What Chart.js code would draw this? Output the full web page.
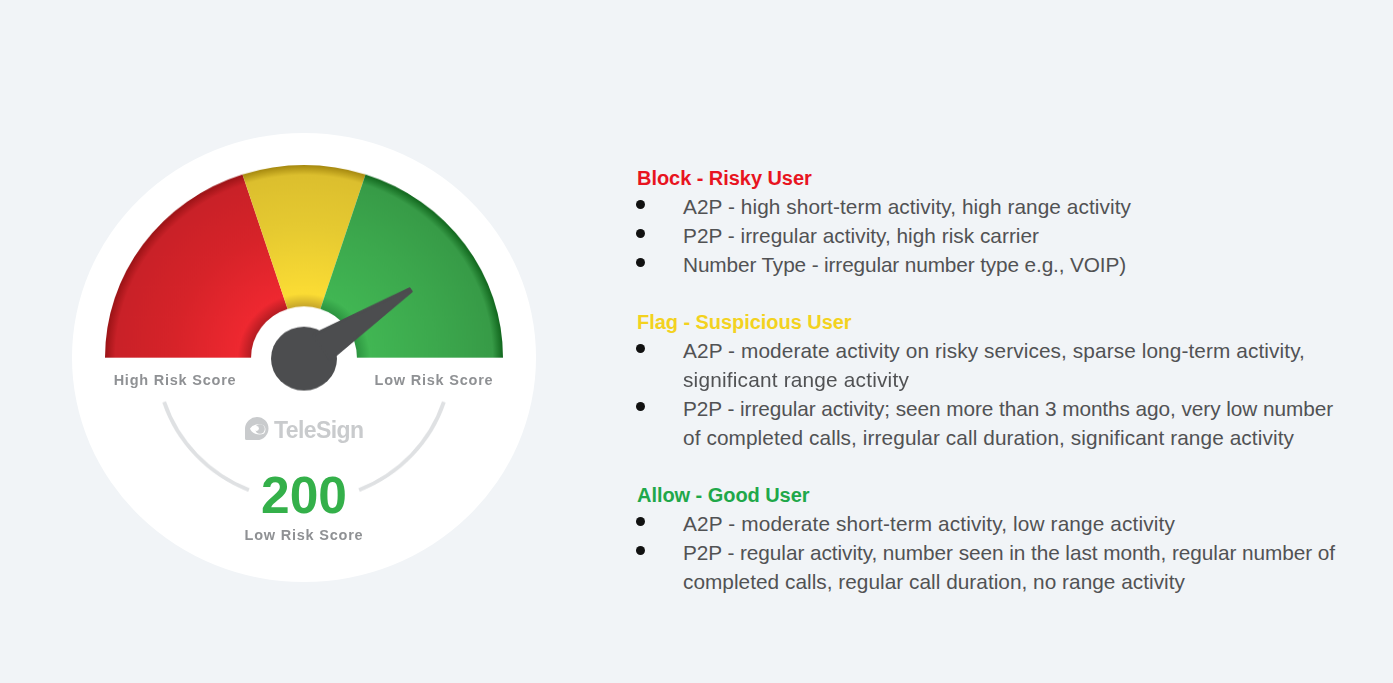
<!DOCTYPE html>
<html><head><meta charset="utf-8">
<style>
html,body{margin:0;padding:0;background:#f1f4f7;width:1393px;height:683px;overflow:hidden}
body{position:relative;font-family:"Liberation Sans",Arial,sans-serif}
#disc{position:absolute;left:72px;top:133px;width:464px;height:449px;border-radius:50%;background:#fff}
canvas{position:absolute}
#gauge{left:72px;top:165px;transform:scaleY(.968);transform-origin:0 0}
#ring{left:155px;top:209px;transform:scaleY(.968);transform-origin:50% 50%}
.t{position:absolute;white-space:nowrap;line-height:29px;height:29px;margin-top:-14.5px}
.h{font-weight:bold;font-size:20px;letter-spacing:-.05px}
.b{font-size:20.8px;color:#515254;margin-top:-15.5px}
.dot{position:absolute;width:9px;height:9px;border-radius:50%;background:#111}
.lab{position:absolute;font-weight:bold;color:#8f9194;font-size:14.5px;letter-spacing:.77px;white-space:nowrap;transform:translateX(-50%);line-height:18px}
#score{position:absolute;left:304px;top:466px;transform:translateX(-50%);font-weight:bold;font-size:51.5px;line-height:58px;color:#34b04a}
#brand{position:absolute;left:274px;top:416px;font-weight:bold;font-size:23px;line-height:28px;color:#c9cbcd;letter-spacing:-.6px}
#logo{position:absolute;left:245px;top:417px}
</style></head><body>
<div id="disc"></div>
<canvas id="ring" width="298" height="298"></canvas>
<canvas id="gauge" width="464" height="240"></canvas>
<div class="lab" style="left:175px;top:371px">High Risk Score</div>
<div class="lab" style="left:434px;top:371px">Low Risk Score</div>
<svg id="logo" width="24" height="24" viewBox="0 0 24 24"><path d="M12 0a11.500 11.500 0 1 1 0 23H1.500a1.500 1.500 0 0 1-1.500-1.500V11A12 12 0 0 1 12 0z" fill="#c9cbcd"/><path d="M5 11.500a9.500 7 0 0 1 14-3a7 7 0 0 1 0 8a9.500 7 0 0 1-14-5z" fill="#fff"/><circle cx="15" cy="12" r="4.800" fill="#c9cbcd"/><circle cx="11.500" cy="11.500" r="2.400" fill="#fff"/></svg>
<div id="brand">TeleSign</div>
<div id="score"></div>
<div class="lab" style="left:304px;top:526px" id="scoreLabel"></div>
<div id="copy"></div>
<script src="https://cdn.jsdelivr.net/npm/chart.js@4"></script>
<script>
const zoneLabels = ["High Risk Score", "Flag", "Low Risk Score"];
const zoneSpans = [40, 20, 40];
const dialMax = 1000;
const needleReading = 187;
const scoreText = "200";
const scoreLabelText = "Low Risk Score";
const ringLabels = ["left arc", "gap", "right arc", "rest"];
const ringSpans = [50, 44, 50, 216];

const blockHead = "Block - Risky User";
const blockLines = [
  ["A2P - high short-term activity, high range activity"],
  ["P2P - irregular activity, high risk carrier"],
  ["Number Type - irregular number type e.g., VOIP)"]
];
const flagHead = "Flag - Suspicious User";
const flagLines = [
  ["A2P - moderate activity on risky services, sparse long-term activity,", "significant range activity"],
  ["P2P - irregular activity; seen more than 3 months ago, very low number", "of completed calls, irregular call duration, significant range activity"]
];
const allowHead = "Allow - Good User";
const allowLines = [
  ["A2P - moderate short-term activity, low range activity"],
  ["P2P - regular activity, number seen in the last month, regular number of", "completed calls, regular call duration, no range activity"]
];
const lineWidths = [448, 356, 443, 622, 226, 650, 611, 492, 652, 502];

const sections = [
  [blockHead, "#e8141f", blockLines, 178],
  [flagHead, "#f3d21f", flagLines, 322],
  [allowHead, "#1fa84a", allowLines, 495]
];
const copy = document.getElementById("copy");
function add(cls, text, x, y, color) {
  const d = document.createElement("div");
  d.className = "t " + cls; d.textContent = text;
  d.style.left = x + "px"; d.style.top = y + "px";
  if (color) d.style.color = color;
  copy.appendChild(d);
  return d;
}
let lineNo = 0;
sections.forEach(([head, color, items, y0]) => {
  add("h", head, 637, y0, color);
  let y = y0 + 29;
  items.forEach(lines => {
    const dot = document.createElement("div");
    dot.className = "dot"; dot.style.left = "636px"; dot.style.top = (y - 7.5) + "px";
    copy.appendChild(dot);
    lines.forEach(line => {
      const d = add("b", line, 683, y);
      const w = d.getBoundingClientRect().width;
      d.style.letterSpacing = ((lineWidths[lineNo++] - w) / line.length) + "px";
      y += 29;
    });
  });
});
document.getElementById("score").textContent = scoreText;
document.getElementById("scoreLabel").textContent = scoreLabelText;

// Radial shading per zone: [inner shadow, bright, mid, rim shade, rim edge]
const shades = [
  ["#b51c22", "#ee2830", "#d62329", "#c92128", "#9a1316"],
  ["#c7a62a", "#fbdc34", "#e6ca31", "#dcbf2e", "#a5880f"],
  ["#2c9440", "#41b653", "#3ca84d", "#379b47", "#11661d"]
];
function zoneFill(ctx) {
  const area = ctx.chart.chartArea;
  const s = shades[ctx.dataIndex];
  if (!area) return s[1];
  const R = area.width / 2, x = area.left + R, y = area.bottom, r = R * 0.266;
  const g = ctx.chart.ctx.createRadialGradient(x, y, r, x, y, R);
  g.addColorStop(0, s[0]);
  g.addColorStop(.09, s[1]);
  g.addColorStop(.55, s[2]);
  g.addColorStop(.93, s[3]);
  g.addColorStop(1, s[4]);
  return g;
}
const needlePlugin = {
  id: "needle",
  afterDatasetsDraw(chart) {
    const arc = chart.getDatasetMeta(0).data[0];
    const { x, y, outerRadius: R } = arc;
    const a = Math.PI * needleReading / dialMax;
    const c = chart.ctx, cy = y + 1, k = R / 199;
    const L = 128 * k, A = 29 * k, W = 15 * k, T = 1.8 * k;
    const dx = Math.cos(a), dy = -Math.sin(a), nx = -dy, ny = dx;
    const P = (al, pe) => [x + dx * al + nx * pe, cy + dy * al + ny * pe];
    c.save();
    c.fillStyle = c.strokeStyle = "#4c4d4f";
    c.beginPath(); c.arc(x, cy, 33 * k, 0, Math.PI * 2); c.fill();
    c.lineJoin = "round"; c.lineWidth = 2.4;
    c.beginPath();
    c.moveTo(...P(A - 8, -W)); c.lineTo(...P(A, -W + .5)); c.lineTo(...P(L, -T)); c.lineTo(...P(L, T));
    c.lineTo(...P(A, W - .5)); c.lineTo(...P(A - 8, W));
    c.closePath(); c.fill(); c.stroke();
    c.restore();
  }
};
const common = { responsive: false, animation: false, plugins: { legend: { display: false }, tooltip: { enabled: false } }, events: [] };
new Chart(document.getElementById("gauge"), {
  type: "doughnut",
  data: { labels: zoneLabels, datasets: [{ data: zoneSpans, backgroundColor: zoneFill, borderWidth: 0, hoverOffset: 0 }] },
  options: { ...common, rotation: -90, circumference: 180, cutout: "26.6%",
    layout: { padding: { left: 33, right: 33, top: 0, bottom: 41 } } },
  plugins: [needlePlugin]
});
new Chart(document.getElementById("ring"), {
  type: "doughnut",
  data: { labels: ringLabels, datasets: [{ data: ringSpans, backgroundColor: ["#dfe1e3", "rgba(0,0,0,0)", "#dfe1e3", "rgba(0,0,0,0)"], borderWidth: 0 }] },
  options: { ...common, rotation: 108, cutout: "97.4%" }
});
</script>
</body></html>
